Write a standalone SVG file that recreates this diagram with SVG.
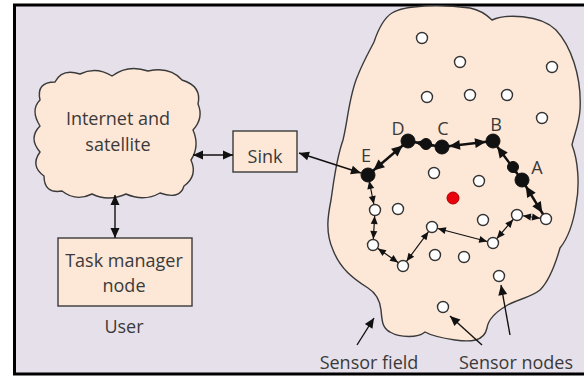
<svg xmlns="http://www.w3.org/2000/svg" width="584" height="376" viewBox="0 0 584 376">
  <style>
    .shape { fill: #fde7d7; stroke: #3a3a3a; stroke-width: 1.4; }
    .label { font-family: "Open Sans", "Noto Sans", sans-serif; font-size: 18px; fill: #3a3a3a; text-anchor: middle; }
    .thin { stroke: #111; stroke-width: 1.2; fill: none; marker-start: url(#arrS); marker-end: url(#arrS); }
    .thick { stroke: #111; stroke-width: 2.4; fill: none; marker-start: url(#arrL); marker-end: url(#arrL); }
    .link { stroke: #111; stroke-width: 1.4; fill: none; }
    .white { fill: #ffffff; stroke: #333; stroke-width: 1.4; }
    .black { fill: #111; stroke: #111; stroke-width: 1; }
  </style>
  <defs>
    <!-- small arrowhead, tip stops at the rim of a white node -->
    <marker id="arrS" viewBox="0 0 16 8" refX="14" refY="3.5" markerWidth="16" markerHeight="8" markerUnits="userSpaceOnUse" orient="auto-start-reverse" overflow="visible">
      <path d="M0,0 L8,3.5 L0,7 z" fill="#111"/>
    </marker>
    <!-- large arrowhead, tip stops at the rim of a black node -->
    <marker id="arrL" viewBox="0 0 20 10" refX="18" refY="5" markerWidth="20" markerHeight="10" markerUnits="userSpaceOnUse" orient="auto-start-reverse" overflow="visible">
      <path d="M0,0 L11,5 L0,10 z" fill="#111"/>
    </marker>
    <!-- arrowhead whose tip sits on the line end -->
    <marker id="arrT" viewBox="0 0 10 9" refX="10" refY="4.5" markerWidth="10" markerHeight="9" markerUnits="userSpaceOnUse" orient="auto-start-reverse" overflow="visible">
      <path d="M0,0 L10,4.5 L0,9 z" fill="#111"/>
    </marker>
  </defs>

  <!-- background and frame -->
  <rect x="0" y="0" width="584" height="376" fill="#ffffff"/>
  <rect x="14.5" y="5" width="580" height="369" fill="#e6e0ea" stroke="#000" stroke-width="3"/>

  <!-- sensor field -->
  <g id="sensor-field">
    <path class="shape" d="M392,13 C405,5 440,4 470,8 C480,10 486,14 492,20 C505,14 540,14 556,30 C570,45 582,75 580,110 C579,125 574,135 572,145 C578,160 580,185 576,205 C573,225 568,238 560,248 C556,262 550,280 540,290 C530,298 515,300 506,306 C496,312 488,320 487,328 C484,342 470,342 455,340 C442,338 432,336 425,332 C418,338 400,338 390,332 C382,328 382,320 381,310 C380,300 376,293 368,288 C352,278 340,268 333,250 C325,232 328,215 331,200 C334,180 336,160 343,140 C348,120 349,95 358,75 C364,60 370,50 374,42 C378,30 384,18 392,13 Z"/>
  </g>

  <!-- internet cloud -->
  <g id="internet">
    <path class="shape" d="M55,82 Q62,68 80,74 Q96,66 112,76 Q128,64 148,71 Q170,66 182,80 Q202,86 198,104 Q204,118 193,130 Q200,146 191,160 Q198,176 184,186 Q180,200 160,193 Q144,202 126,194 Q108,202 92,194 Q76,202 62,191 Q44,194 44,176 Q30,166 40,152 Q28,138 40,126 Q30,110 40,100 Q36,82 55,82 Z"/>
    <text class="label" x="118" y="125">Internet and</text>
    <text class="label" x="118" y="151">satellite</text>
  </g>

  <g id="sink">
    <rect class="shape" x="233" y="131" width="64" height="41"/>
    <text class="label" x="265" y="163">Sink</text>
  </g>

  <g id="task-manager">
    <rect class="shape" x="58" y="238" width="134" height="68"/>
    <text class="label" x="124" y="267">Task manager</text>
    <text class="label" x="124" y="292">node</text>
    <text class="label" x="124" y="333">User</text>
  </g>

  <!-- connectors -->
  <g id="connectors">
    <line class="link" x1="193" y1="155" x2="233" y2="155" marker-start="url(#arrT)" marker-end="url(#arrT)"/>
    <line class="link" x1="115" y1="195" x2="115" y2="238" marker-start="url(#arrT)" marker-end="url(#arrT)"/>
    <!-- sink to E -->
    <line class="link" x1="299" y1="153" x2="361" y2="173" marker-start="url(#arrT)" marker-end="url(#arrT)"/>
    <!-- routed path E-D-C-B-A -->
    <line class="thick" x1="368" y1="175" x2="408" y2="141"/>
    <line class="thick" x1="408" y1="141" x2="442" y2="147"/>
    <line class="thick" x1="442" y1="147" x2="493" y2="141"/>
    <line class="thick" x1="493" y1="141" x2="522" y2="180"/>
    <line class="thick" x1="522" y1="180" x2="546" y2="219"/>
    <!-- multi-hop path through sensor nodes -->
    <line class="thin" x1="546" y1="219" x2="517" y2="215"/>
    <line class="thin" x1="517" y1="215" x2="493" y2="243"/>
    <line class="thin" x1="493" y1="243" x2="432" y2="227"/>
    <line class="thin" x1="432" y1="227" x2="403" y2="266"/>
    <line class="thin" x1="403" y1="266" x2="373" y2="245"/>
    <line class="thin" x1="373" y1="245" x2="375" y2="210"/>
    <line class="thin" x1="375" y1="210" x2="368" y2="175"/>
    <!-- callout pointers -->
    <line class="link" x1="357" y1="345" x2="374" y2="318" marker-end="url(#arrT)"/>
    <line class="link" x1="482" y1="345" x2="450" y2="316" marker-end="url(#arrT)"/>
    <line class="link" x1="510" y1="335" x2="501" y2="285" marker-end="url(#arrT)"/>
  </g>

  <!-- sensor nodes -->
  <g id="sensor-nodes">
    <circle class="white" cx="422" cy="38" r="5.5"/>
    <circle class="white" cx="460" cy="62" r="5.5"/>
    <circle class="white" cx="552" cy="67" r="5.5"/>
    <circle class="white" cx="427" cy="97" r="5.5"/>
    <circle class="white" cx="470" cy="95" r="5.5"/>
    <circle class="white" cx="507" cy="95" r="5.5"/>
    <circle class="white" cx="542" cy="118" r="5.5"/>
    <circle class="white" cx="434" cy="173" r="5.5"/>
    <circle class="white" cx="479" cy="181" r="5.5"/>
    <circle class="white" cx="398" cy="209" r="5.5"/>
    <circle class="white" cx="483" cy="220" r="5.5"/>
    <circle class="white" cx="435" cy="255" r="5.5"/>
    <circle class="white" cx="464" cy="257" r="5.5"/>
    <circle class="white" cx="499" cy="276" r="5.5"/>
    <circle class="white" cx="443" cy="307" r="5.5"/>
    <!-- nodes on the multi-hop path -->
    <circle class="white" cx="546" cy="219" r="5.5"/>
    <circle class="white" cx="517" cy="215" r="5.5"/>
    <circle class="white" cx="493" cy="243" r="5.5"/>
    <circle class="white" cx="432" cy="227" r="5.5"/>
    <circle class="white" cx="403" cy="266" r="5.5"/>
    <circle class="white" cx="373" cy="245" r="5.5"/>
    <circle class="white" cx="375" cy="210" r="5.5"/>
  </g>

  <g id="event">
    <circle cx="453" cy="198" r="6" fill="#e8000a" stroke="#a00" stroke-width="1"/>
  </g>

  <!-- routing nodes -->
  <g id="node-e">
    <circle class="black" cx="368" cy="175" r="7"/>
    <text class="label" x="366" y="162">E</text>
  </g>
  <g id="node-d">
    <circle class="black" cx="408" cy="141" r="7"/>
    <text class="label" x="398" y="135">D</text>
  </g>
  <g id="node-c">
    <circle class="black" cx="426" cy="144" r="5.5"/>
    <circle class="black" cx="442" cy="147" r="7"/>
    <text class="label" x="443" y="135">C</text>
  </g>
  <g id="node-b">
    <circle class="black" cx="493" cy="141" r="7"/>
    <text class="label" x="496" y="131">B</text>
  </g>
  <g id="node-a">
    <circle class="black" cx="513" cy="167" r="5.5"/>
    <circle class="black" cx="522" cy="180" r="7"/>
    <text class="label" x="537" y="174">A</text>
  </g>

  <g id="captions">
    <text class="label" x="369" y="369">Sensor field</text>
    <text class="label" x="516" y="369">Sensor nodes</text>
  </g>
</svg>
